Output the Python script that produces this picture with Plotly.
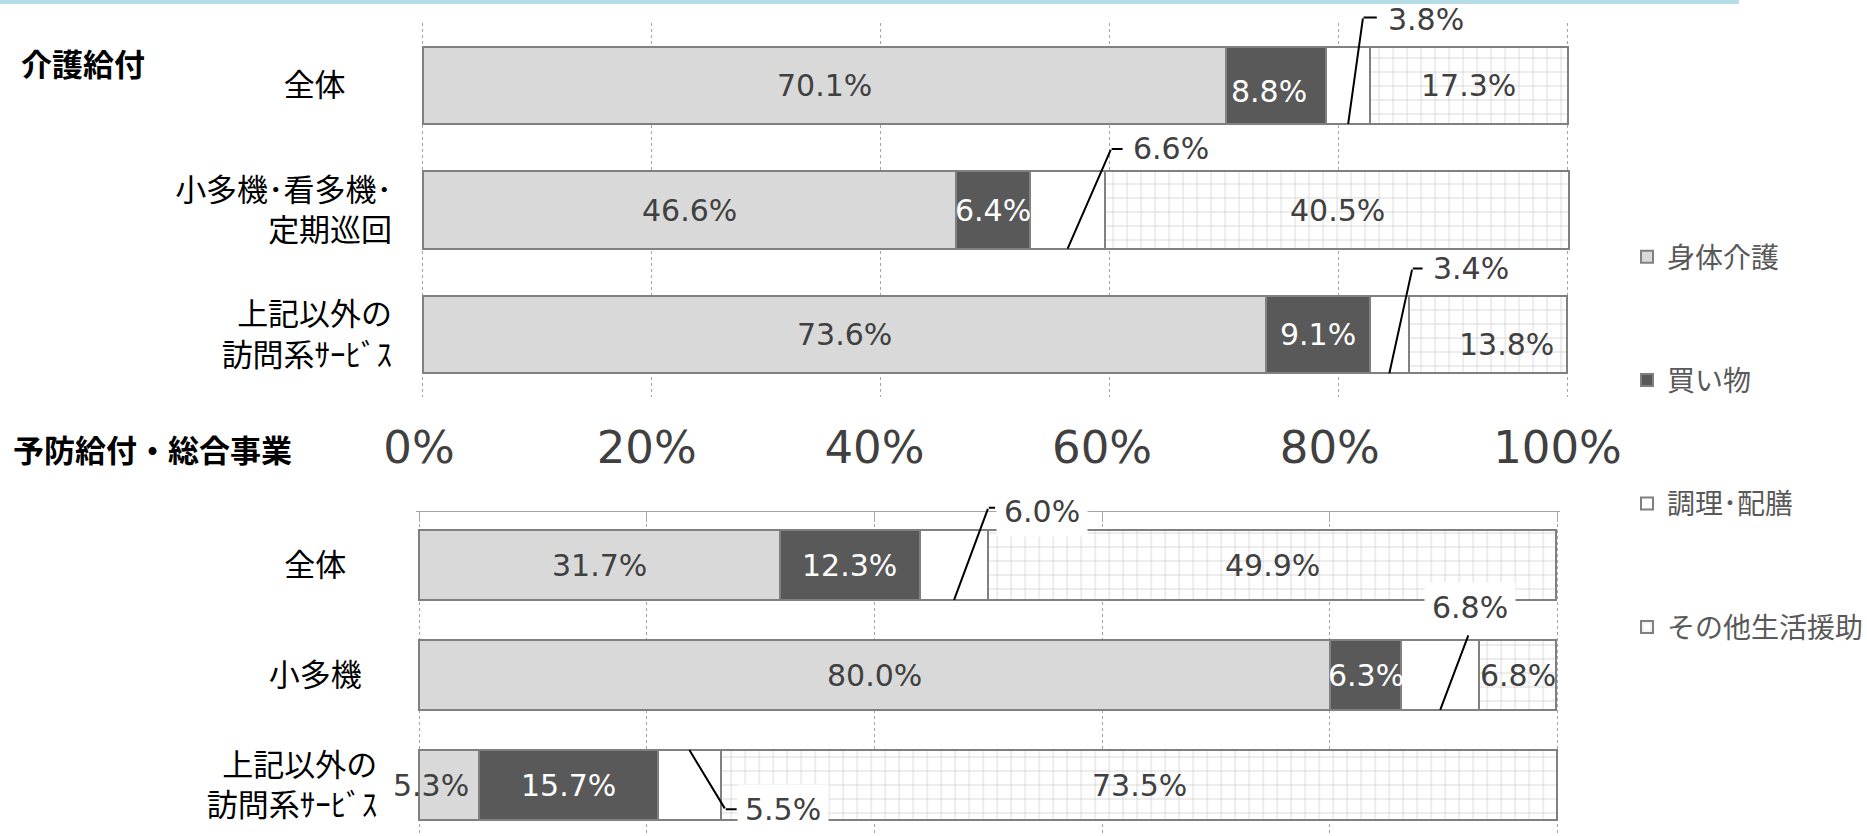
import plotly.graph_objects as go

# ---------------- data ----------------
series_names = ["身体介護", "買い物", "調理･配膳", "その他生活援助"]

care_categories = ["全体", "小多機･看多機･<br>定期巡回", "上記以外の<br>訪問系ｻｰﾋﾞｽ"]
care_body = [70.1, 46.6, 73.6]
care_shopping = [8.8, 6.4, 9.1]
care_cooking = [3.8, 6.6, 3.4]
care_other = [17.3, 40.5, 13.8]

prev_categories = ["全体", "小多機", "上記以外の<br>訪問系ｻｰﾋﾞｽ"]
prev_body = [31.7, 80.0, 5.3]
prev_shopping = [12.3, 6.3, 15.7]
prev_cooking = [6.0, 6.8, 5.5]
prev_other = [49.9, 6.8, 73.5]

x_tick_values = [0, 20, 40, 60, 80, 100]
x_tick_labels = ["0%", "20%", "40%", "60%", "80%", "100%"]

section_titles = ["介護給付", "予防給付・総合事業"]

# ---------------- style ----------------
W, H = 1867, 836
JP = "Noto Sans CJK JP"
NUM = "DejaVu Sans"
GRID = "#a6a6a6"
EDGE = "#808080"
TXT = "#404040"
SLACK = 0.25   # small slack so the 0% / 100% grid lines are drawn
X_RANGE = [-SLACK, 100 + SLACK]

fills = ["#d9d9d9", "#595959", "#ffffff", "#ffffff"]
label_colors = [TXT, "#ffffff", TXT, TXT]


def px_x(p):
    return p / W


def px_y(p):
    return 1 - p / H


def x_domain(px0, px100):
    # pixel positions of 0% and 100% -> domain that includes the slack
    k = (px100 - px0) / 100.0
    return [px_x(px0 - SLACK * k), px_x(px100 + SLACK * k)]


panels = {
    "care": dict(xa="x", ya="y", cats=care_categories,
                 vals=[care_body, care_shopping, care_cooking, care_other],
                 width=0.62, pads=["\u3000\u2002", "", ""], yrange=[2.5, -0.5]),
    "prev": dict(xa="x2", ya="y2", cats=prev_categories,
                 vals=[prev_body, prev_shopping, prev_cooking, prev_other],
                 width=0.635, pads=["\u3000", "\u2002", ""], yrange=[2.4636, -0.4818]),
}

# labels drawn outside with leader lines: (panel, row) -> placement (style, axis units)
leaders = {
    ("care", 0): dict(edge=1, elbow=(82.1, -0.545), hend=83.3, label=(83.6, -0.53), anchor="left", bg=False),
    ("care", 1): dict(edge=1, elbow=(60.1, 0.51), hend=61.1, label=(61.3, 0.51), anchor="left", bg=False),
    ("care", 2): dict(edge=1, elbow=(86.4, 1.47), hend=87.3, label=(87.5, 1.47), anchor="left", bg=False),
    ("prev", 0): dict(edge=1, elbow=(50.0, -0.52), hend=50.6, label=(50.7, -0.49), anchor="left", bg=True),
    ("prev", 1): dict(edge=1, elbow=(92.2, 0.63), hend=None, label=(92.3, 0.39), anchor="center", bg=True),
    ("prev", 2): dict(edge=-1, elbow=(26.9, 2.22), hend=27.9, label=(27.9, 2.22), anchor="left", bg=True),
}
# small nudges of inside labels (in axis units)
nudges = {("care", 2, 3): (1.6, 0.08), ("prev", 2, 0): (-1.6, 0.0), ("care", 0, 1): (-0.6, 0.05)}


def to_dom(y, rng):
    # data y -> fraction of the y-axis domain (0 bottom, 1 top)
    return (y - rng[0]) / (rng[1] - rng[0])


fig = go.Figure()

annotations = []
for key, pn in panels.items():
    rows = list(range(len(pn["cats"])))
    yd = pn["ya"] + " domain"
    for si, name in enumerate(series_names):
        marker = dict(color=fills[si], line=dict(color=EDGE, width=2))
        if si == 3:
            marker["pattern"] = dict(shape="+", fgcolor="#999999", bgcolor="#ffffff",
                                     size=14, solidity=0.1, fillmode="overlay")
        fig.add_trace(go.Bar(
            x=pn["vals"][si], y=rows, orientation="h", name=name,
            marker=marker, width=pn["width"], xaxis=pn["xa"], yaxis=pn["ya"],
            legendgroup=name, showlegend=(key == "care"), hoverinfo="skip",
        ))
    # data labels
    for r in rows:
        start = 0.0
        for si in range(4):
            v = pn["vals"][si][r]
            center = start + v / 2
            start += v
            txt = f"{v:.1f}%"
            if si == 2 and (key, r) in leaders:
                ld = leaders[(key, r)]
                y0 = to_dom(r + ld["edge"] * pn["width"] / 2, pn["yrange"])
                ex, ey = ld["elbow"]
                eyd = to_dom(ey, pn["yrange"])
                line_style = dict(xref=pn["xa"], yref=yd, axref=pn["xa"], ayref=yd,
                                  text=" ", font=dict(size=1), showarrow=True, arrowhead=0,
                                  arrowwidth=2, arrowcolor="#000000", standoff=0,
                                  startstandoff=0, borderpad=0)
                annotations.append(dict(x=center, y=y0, ax=ex, ay=eyd, **line_style))
                if ld["hend"] is not None:
                    annotations.append(dict(x=ld["hend"], y=eyd, ax=ex, ay=eyd, **line_style))
                lx, ly = ld["label"]
                annotations.append(dict(
                    x=lx, y=to_dom(ly, pn["yrange"]), xref=pn["xa"], yref=yd, text=txt,
                    showarrow=False, xanchor=ld["anchor"], yanchor="middle",
                    bgcolor="#ffffff" if ld["bg"] else "rgba(0,0,0,0)", borderpad=7,
                    font=dict(family=NUM, size=30, color=TXT)))
                continue
            dx, dy = nudges.get((key, r, si), (0, 0))
            annotations.append(dict(
                x=center + dx, y=r + dy, xref=pn["xa"], yref=pn["ya"], text=txt,
                showarrow=False, xanchor="center", yanchor="middle",
                font=dict(family=NUM, size=30, color=label_colors[si])))

# section titles
annotations.append(dict(x=px_x(19), y=px_y(62), xref="paper", yref="paper",
                        text=f"<b>{section_titles[0]}</b>", showarrow=False,
                        xanchor="left", yanchor="middle",
                        font=dict(family=JP, size=31, color="#000000")))
annotations.append(dict(x=px_x(11), y=px_y(448), xref="paper", yref="paper",
                        text=f"<b>{section_titles[1]}</b>", showarrow=False,
                        xanchor="left", yanchor="middle",
                        font=dict(family=JP, size=31, color="#000000")))

care = panels["care"]
prev = panels["prev"]

fig.update_layout(
    width=W, height=H, margin=dict(l=0, r=0, t=0, b=0, autoexpand=False),
    paper_bgcolor="#ffffff", plot_bgcolor="#ffffff",
    barmode="stack", bargap=0,
    annotations=annotations,
    shapes=[dict(type="rect", xref="paper", yref="paper", x0=0, x1=px_x(1739),
                 y0=px_y(4), y1=1, fillcolor="#b4dde6", line=dict(width=0), layer="above")],
    legend=dict(x=px_x(1627), y=px_y(232), xanchor="left", yanchor="top",
                font=dict(family=JP, size=28, color="#595959"),
                tracegroupgap=84, bgcolor="rgba(0,0,0,0)", itemwidth=30),
    xaxis=dict(domain=x_domain(423, 1568), range=X_RANGE, anchor="y",
               tickvals=x_tick_values, showticklabels=False, showgrid=True,
               gridcolor=GRID, gridwidth=1, griddash="3px,3px", zeroline=False, showline=False),
    yaxis=dict(domain=[px_y(397), px_y(23)], range=care["yrange"], anchor="x",
               tickvals=list(range(3)),
               ticktext=[c + p for c, p in zip(care["cats"], care["pads"])],
               tickfont=dict(family=JP, size=31, color="#000000"),
               ticklabelstandoff=27, showgrid=False, zeroline=False, showline=False),
    xaxis2=dict(domain=x_domain(419, 1557.5), range=X_RANGE, anchor="y2", side="top",
                tickvals=x_tick_values, ticktext=x_tick_labels,
                tickfont=dict(family=NUM, size=45, color=TXT), ticklabelstandoff=30,
                showgrid=True, gridcolor=GRID, gridwidth=1, griddash="3px,3px",
                zeroline=False, showline=True, linecolor=GRID, linewidth=1,
                ticks="inside", ticklen=10, tickcolor=GRID),
    yaxis2=dict(domain=[0, px_y(512)], range=prev["yrange"], anchor="x2",
                tickvals=list(range(3)),
                ticktext=[c + p for c, p in zip(prev["cats"], prev["pads"])],
                tickfont=dict(family=JP, size=31, color="#000000"),
                ticklabelstandoff=38, showgrid=False, zeroline=False, showline=False),
)

fig.write_html("out.html")
